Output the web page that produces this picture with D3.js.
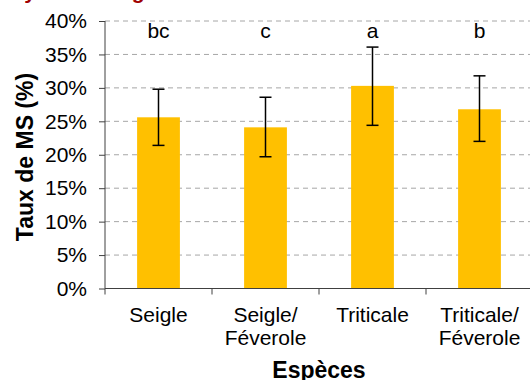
<!DOCTYPE html>
<html>
<head>
<meta charset="utf-8">
<script src="https://cdn.jsdelivr.net/npm/d3@7"></script>
<style>
body{margin:0;background:#fff;}
svg{display:block;font-family:"Liberation Sans",Arial,sans-serif;}
</style>
</head>
<body>
<div id="chart"></div>
<script>
// data
const especes = [["Seigle"], ["Seigle/", "Féverole"], ["Triticale"], ["Triticale/", "Féverole"]];
const taux = [25.6, 24.1, 30.3, 26.8];
const errHaut = [29.8, 28.6, 36.1, 31.8];
const errBas = [21.4, 19.7, 24.4, 22.0];
const lettres = ["bc", "c", "a", "b"];
const yTicks = [0, 5, 10, 15, 20, 25, 30, 35, 40];

const W = 530, H = 380;
const m = {l: 105, t: 21, r: -3, b: 91.5};
const fs = "21px";

const svg = d3.select("#chart").append("svg")
  .attr("width", W).attr("height", H);

const x = d3.scaleBand()
  .domain(d3.range(especes.length))
  .range([m.l, W - m.r])
  .paddingInner(0.6).paddingOuter(0.3);
const step = x.step();
const y = d3.scaleLinear().domain([0, 40]).range([H - m.b, m.t]);

// title, cut off at the top
svg.append("text")
  .attr("x", -6).attr("y", -0.8)
  .style("font-size", "21px").style("font-weight", "bold")
  .style("fill", "#a00000")
  .text("Moyennes seigle");

// grid
svg.append("g").selectAll("line")
  .data(yTicks.slice(1))
  .join("line")
  .attr("x1", m.l).attr("x2", W)
  .attr("y1", d => y(d)).attr("y2", d => y(d))
  .attr("stroke", "#a6a6a6").attr("stroke-width", 1)
  .attr("stroke-dasharray", "5,4");

// bars
svg.append("g").selectAll("rect")
  .data(taux)
  .join("rect")
  .attr("x", (d, i) => x(i))
  .attr("width", x.bandwidth())
  .attr("y", d => y(d))
  .attr("height", d => y(0) - y(d))
  .attr("fill", "#ffc000");

// error bars
const eb = svg.append("g").attr("stroke", "#000").attr("stroke-width", 1.5);
taux.forEach((d, i) => {
  const cx = x(i) + x.bandwidth() / 2;
  eb.append("line").attr("x1", cx).attr("x2", cx)
    .attr("y1", y(errHaut[i])).attr("y2", y(errBas[i]));
  eb.append("line").attr("x1", cx - 6).attr("x2", cx + 6)
    .attr("y1", y(errHaut[i])).attr("y2", y(errHaut[i]));
  eb.append("line").attr("x1", cx - 6).attr("x2", cx + 6)
    .attr("y1", y(errBas[i])).attr("y2", y(errBas[i]));
});

// letters
svg.append("g").selectAll("text")
  .data(lettres)
  .join("text")
  .attr("x", (d, i) => x(i) + x.bandwidth() / 2)
  .attr("y", 38)
  .attr("text-anchor", "middle")
  .style("font-size", fs)
  .text(d => d);

// y axis
const yAxis = svg.append("g")
  .attr("transform", `translate(${m.l},0)`)
  .call(d3.axisLeft(y).tickValues(yTicks).tickFormat(d => d + "%").tickSize(6).tickPadding(12));
yAxis.select(".domain").attr("stroke", "#404040").attr("d", `M0,${y(40)}V${y(0)}`);
yAxis.selectAll(".tick line").attr("stroke", "#404040");
yAxis.selectAll(".tick text").style("font-size", fs).style("fill", "#000")
  .style("font-family", "'Liberation Sans',Arial,sans-serif");

// x axis
const xg = svg.append("g").attr("transform", `translate(0,${y(0)})`);
xg.append("line").attr("x1", m.l).attr("x2", W).attr("stroke", "#404040");
xg.selectAll(".tk")
  .data(d3.range(especes.length + 1))
  .join("line")
  .attr("x1", i => m.l + i * step).attr("x2", i => m.l + i * step)
  .attr("y1", 0).attr("y2", 6)
  .attr("stroke", "#404040");
xg.selectAll(".lbl")
  .data(especes)
  .join("text")
  .attr("text-anchor", "middle")
  .attr("transform", (d, i) => `translate(${x(i) + x.bandwidth() / 2},0)`)
  .style("font-size", fs)
  .selectAll("tspan")
  .data(d => d)
  .join("tspan")
  .attr("x", 0)
  .attr("y", (d, j) => 33.5 + j * 23)
  .text(d => d);

// axis titles
svg.append("text")
  .attr("x", (m.l + W - m.r) / 2).attr("y", 378)
  .attr("text-anchor", "middle")
  .style("font-size", "23px").style("font-weight", "bold")
  .text("Espèces");

svg.append("text")
  .attr("transform", `translate(33,157) rotate(-90)`)
  .attr("text-anchor", "middle")
  .style("font-size", "23px").style("font-weight", "bold")
  .text("Taux de MS (%)");
</script>
</body>
</html>
